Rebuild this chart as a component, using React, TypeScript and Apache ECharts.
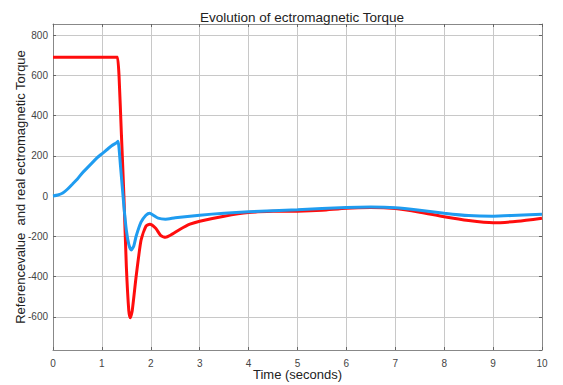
import React, { useEffect, useRef } from "react";
import * as echarts from "echarts";

const refTime = [0, 1.3, 1.32, 1.35, 1.4, 1.45, 1.5, 1.55, 1.58, 1.62, 1.7, 1.8, 1.9, 1.98, 2.1, 2.2, 2.3, 2.4, 2.6, 2.8, 3, 3.5, 4, 4.5, 5, 5.5, 6, 6.5, 7, 7.5, 8, 8.5, 9, 9.5, 10];
const refTorque = [690, 690, 690, 600, 300, 0, -350, -570, -605, -570, -400, -220, -150, -140, -160, -195, -205, -195, -165, -140, -125, -100, -82, -76, -75, -70, -60, -57, -62, -80, -103, -122, -133, -125, -110];

const realTime = [0, 0.1, 0.2, 0.3, 0.4, 0.5, 0.6, 0.7, 0.8, 0.9, 1.0, 1.1, 1.2, 1.3, 1.33, 1.38, 1.45, 1.5, 1.55, 1.6, 1.65, 1.7, 1.8, 1.9, 1.98, 2.05, 2.15, 2.3, 2.5, 3, 3.5, 4, 5, 6, 6.5, 7, 7.5, 8, 8.5, 9, 9.5, 10];
const realTorque = [0, 5, 15, 35, 60, 85, 115, 140, 165, 190, 210, 230, 250, 265, 272, 150, -50, -170, -240, -268, -250, -200, -130, -95, -85, -95, -110, -115, -108, -95, -85, -78, -68, -57, -55, -58, -70, -85, -97, -100, -95, -90];

const xTicks = [0, 1, 2, 3, 4, 5, 6, 7, 8, 9, 10];

const pair = (xs: number[], ys: number[]) => xs.map((x, i) => [x, ys[i]]);

export default function App() {
  const ref = useRef<HTMLDivElement>(null);
  useEffect(() => {
    if (!ref.current) return;
    const chart = echarts.init(ref.current, null, { renderer: "svg" });
    const font = "Liberation Sans";
    chart.setOption({
      animation: false,
      backgroundColor: "#ffffff",
      title: {
        text: "Evolution of ectromagnetic Torque",
        left: 297,
        textAlign: "center",
        top: 5,
        textStyle: { fontFamily: font, fontSize: 13.5, fontWeight: "normal", color: "#222" },
      },
      grid: { left: 53, right: 21, top: 24, bottom: 35, containLabel: false, outerBoundsMode: "none" },
      xAxis: [
        {
          type: "value",
          min: xTicks[0],
          max: xTicks[xTicks.length - 1],
          interval: 1,
          name: "Time (seconds)",
          nameLocation: "middle",
          nameGap: 18,
          nameMoveOverlap: false,
          nameTextStyle: { fontFamily: font, fontSize: 13, color: "#222" },
          axisLine: { show: true, onZero: false, lineStyle: { color: "#888", width: 1 } },
          axisTick: { show: true, inside: true, length: 3, lineStyle: { color: "#666" } },
          axisLabel: { fontFamily: font, fontSize: 10, color: "#444", margin: 8 },
          splitLine: { show: true, lineStyle: { color: "#c8c8c8", width: 1 } },
        },
        {
          type: "value",
          position: "top",
          min: 0,
          max: 10,
          interval: 1,
          axisLine: { show: true, onZero: false, lineStyle: { color: "#888", width: 1 } },
          axisTick: { show: true, inside: true, length: 3, lineStyle: { color: "#666" } },
          axisLabel: { show: false },
          splitLine: { show: false },
        },
      ],
      yAxis: [
        {
          type: "value",
          min: -765,
          max: 855,
          splitNumber: 8,
          minInterval: 200,
          maxInterval: 200,
          name: "Referencevalue  and real ectromagnetic Torque",
          nameLocation: "middle",
          nameGap: 26,
          nameMoveOverlap: false,
          nameTextStyle: { fontFamily: font, fontSize: 13, color: "#222" },
          axisLine: { show: true, onZero: false, lineStyle: { color: "#888", width: 1 } },
          axisTick: { show: true, inside: true, length: 3, lineStyle: { color: "#666" } },
          axisLabel: { fontFamily: font, fontSize: 10, color: "#444", margin: 5, showMinLabel: false, showMaxLabel: false },
          splitLine: { show: true, lineStyle: { color: "#c8c8c8", width: 1 } },
        },
        {
          type: "value",
          position: "right",
          min: -765,
          max: 855,
          splitNumber: 8,
          minInterval: 200,
          maxInterval: 200,
          axisLine: { show: true, onZero: false, lineStyle: { color: "#888", width: 1 } },
          axisTick: { show: true, inside: true, length: 3, lineStyle: { color: "#666" } },
          axisLabel: { show: false },
          splitLine: { show: false },
        },
      ],
      series: [
        {
          type: "line",
          name: "Reference",
          data: pair(refTime, refTorque),
          showSymbol: false,
          smooth: 0.2,
          lineStyle: { color: "#ff0d0d", width: 3 },
          itemStyle: { color: "#ff0d0d" },
        },
        {
          type: "line",
          name: "Real",
          data: pair(realTime, realTorque),
          showSymbol: false,
          smooth: 0.2,
          lineStyle: { color: "#1f9cf0", width: 3 },
          itemStyle: { color: "#1f9cf0" },
        },
      ],
    });
    return () => chart.dispose();
  }, []);
  return <div ref={ref} style={{ width: 563, height: 385, position: "absolute", left: 0, top: 0 }} />;
}
